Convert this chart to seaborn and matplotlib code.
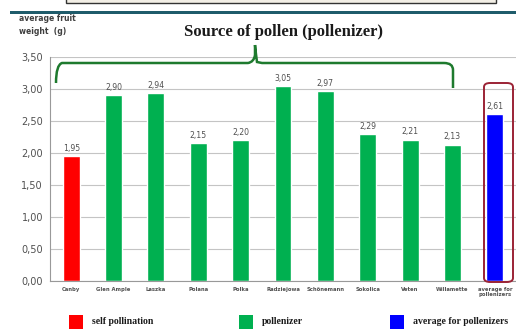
import matplotlib
matplotlib.use("Agg")
import matplotlib.pyplot as plt
from matplotlib.patches import Rectangle, FancyBboxPatch, PathPatch
from matplotlib.path import Path
import seaborn as sns
import pandas as pd

# Data
cultivars = ["Canby", "Glen Ample", "Laszka", "Polana", "Polka", "Radziejowa",
             "Schönemann", "Sokolica", "Veten", "Willamette", "average for\npollenizers"]
fruit_weight = [1.95, 2.90, 2.94, 2.15, 2.20, 3.05, 2.97, 2.29, 2.21, 2.13, 2.61]
groups = ["self pollination"] + ["pollenizer"] * 9 + ["average for pollenizers"]
y_ticks = [0.0, 0.5, 1.0, 1.5, 2.0, 2.5, 3.0, 3.5]

colors = {"self pollination": "#ff0000", "pollenizer": "#00b050",
          "average for pollenizers": "#0000ff"}

df = pd.DataFrame({"cultivar": cultivars, "weight": fruit_weight, "group": groups})

sns.set_style("white")
W, H = 516, 331
fig = plt.figure(figsize=(W / 100, H / 100), dpi=100)
ax = fig.add_axes([50 / W, 1 - 281 / H, 466 / W, (281 - 57) / H])

sns.barplot(data=df, x="cultivar", y="weight", hue="group", palette=colors,
            dodge=False, width=0.4, legend=False, ax=ax, saturation=1)

ax.set_ylim(0, 3.5)
ax.set_xlim(-0.5, len(cultivars) - 0.5)
ax.set_yticks(y_ticks)
ax.set_yticklabels([f"{v:.2f}".replace(".", ",") for v in y_ticks],
                   fontsize=7, color="#505050")
ax.set_xticks(range(len(cultivars)))
ax.set_xticklabels(cultivars, fontsize=3.8, color="#505050", fontweight="bold")
ax.tick_params(axis="x", length=0, pad=4)
ax.tick_params(axis="y", length=3, color="#999999", pad=2)
ax.set_xlabel("")
ax.set_ylabel("")
ax.yaxis.grid(True, color="#c4c4c4", linewidth=0.8)
ax.set_axisbelow(True)
for s in ["top", "right"]:
    ax.spines[s].set_visible(False)
for s in ["left", "bottom"]:
    ax.spines[s].set_color("#999999")
    ax.spines[s].set_linewidth(0.8)

# value labels above bars
for i, v in enumerate(fruit_weight):
    ax.text(i, v + 0.05, f"{v:.2f}".replace(".", ","), ha="center", va="bottom",
            fontsize=5.6, color="#505050")


def px(x, y):
    return (x / W, 1 - y / H)


# box around the average bar
frame = FancyBboxPatch(px(484, 282), 29 / W, (282 - 83) / H,
                       boxstyle="round,pad=0,rounding_size=0.012",
                       transform=fig.transFigure, fill=False,
                       edgecolor="#9b2335", linewidth=1.4, clip_on=False)
fig.patches.append(frame)

# header box and rule
fig.patches.append(Rectangle(px(66, 3), (496 - 66) / W, 6 / H, transform=fig.transFigure,
                             facecolor="#f3efe6", edgecolor="#333333", linewidth=1.0))
fig.patches.append(Rectangle(px(10, 14), (W - 10) / W, 3 / H, transform=fig.transFigure,
                             facecolor="#1f5c6b", edgecolor="none"))

# curly brace over the pollenizers
brace_pts = [px(56, 83), px(56, 65), px(62, 63), px(70, 63),
             px(248, 63), px(254, 62), px(255, 55),
             px(255, 45), px(255, 45),
             px(256, 55), px(257, 62), px(262, 63),
             px(444, 63), px(453, 63), px(453, 70), px(453, 88)]
codes = [Path.MOVETO, Path.CURVE3, Path.CURVE3, Path.LINETO,
         Path.LINETO, Path.CURVE3, Path.CURVE3,
         Path.LINETO, Path.MOVETO,
         Path.CURVE3, Path.CURVE3, Path.LINETO,
         Path.LINETO, Path.CURVE3, Path.CURVE3, Path.LINETO]
fig.patches.append(PathPatch(Path(brace_pts, codes), transform=fig.transFigure,
                             fill=False, edgecolor="#1e7a2e", linewidth=1.8))

fig.text(*px(283, 32), "Source of pollen (pollenizer)", ha="center", va="center",
         fontsize=12, fontweight="bold", family="Liberation Serif", color="#1a1a1a")
fig.text(*px(19, 25), "average fruit\nweight  (g)", ha="left", va="center",
         fontsize=5.5, fontweight="bold", color="#404040", linespacing=1.5)

# legend along the bottom
legend_items = [(69, "self pollination", "#ff0000"),
                (239, "pollenizer", "#00b050"),
                (390, "average for pollenizers", "#0000ff")]
for x0, label, c in legend_items:
    fig.patches.append(Rectangle(px(x0, 329), 14 / W, 14 / H, transform=fig.transFigure,
                                 facecolor=c, edgecolor="none"))
    fig.text(*px(x0 + 23, 322), label, ha="left", va="center", fontsize=7,
             fontweight="bold", family="Liberation Serif", color="#1a1a1a")

fig.savefig("out.png", dpi=100)
